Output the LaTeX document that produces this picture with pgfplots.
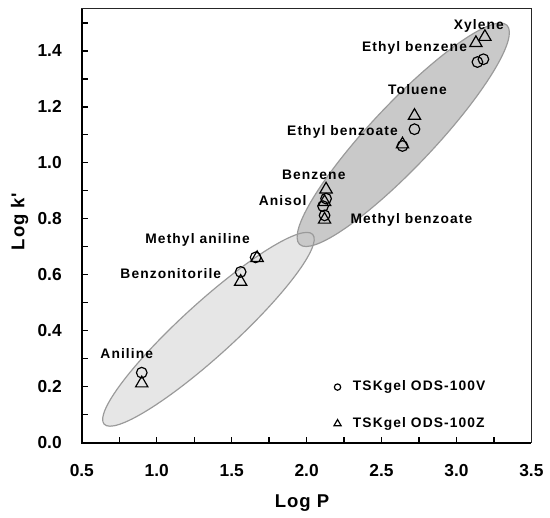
\documentclass[border=0pt]{standalone}
\usepackage{pgfplots}
\pgfplotsset{compat=1.18}
\usepackage{fontspec}
\setmainfont{Liberation Sans}
\setsansfont{Liberation Sans}
\newfontfamily\widesans[LetterSpace=8]{Liberation Sans}
\newfontfamily\titlesans[LetterSpace=5]{Liberation Sans}
\usetikzlibrary{shapes.geometric}

\definecolor{bigfill}{HTML}{C9C9C9}
\definecolor{smallfill}{HTML}{E6E6E6}
\definecolor{rim}{HTML}{9A9A9A}

\newcommand{\tickfont}{\bfseries\fontsize{8.8}{10}\selectfont}
\newcommand{\titlefont}{\titlesans\bfseries\fontsize{9.4}{11}\selectfont}
\newcommand{\labfont}{\widesans\bfseries\fontsize{7}{8}\selectfont}

% Retention (log k') against hydrophobicity (log P)
\pgfplotstableread{
x     y
0.90  0.25
1.56  0.61
1.66  0.662
2.11  0.845
2.13  0.872
2.12  0.812
2.64  1.060
2.72  1.120
3.14  1.360
3.18  1.370
}\odsV

\pgfplotstableread{
x     y
0.90  0.212
1.56  0.575
1.67  0.660
2.12  0.860
2.13  0.905
2.12  0.797
2.64  1.066
2.72  1.168
3.13  1.428
3.19  1.450
}\odsZ

\begin{document}
\begin{tikzpicture}
\begin{axis}[
  scale only axis,
  width=228pt, height=220pt,
  xmin=0.5, xmax=3.5, ymin=0, ymax=1.55,
  xtick={0.5,1.0,1.5,2.0,2.5,3.0,3.5},
  ytick={0,0.2,0.4,0.6,0.8,1.0,1.2,1.4},
  minor xtick={0.75,1.25,1.75,2.25,2.75,3.25},
  minor ytick={0.1,0.3,0.5,0.7,0.9,1.1,1.3,1.5},
  tick pos=left, tick align=inside,
  major tick length=3pt, minor tick length=3pt,
  every tick/.style={black, line width=0.7pt},
  axis line style={line width=0.5pt, black!85},
  /pgf/number format/.cd, fixed, fixed zerofill, precision=1, assume math mode=true,
  /pgfplots/.cd,
  xticklabel style={font=\tickfont, anchor=center, yshift=-14pt},
  yticklabel style={font=\tickfont, anchor=east, inner sep=0pt, xshift=-10pt},
  xlabel={Log P}, ylabel={Log k'},
  xlabel style={font=\titlefont, at={(rel axis cs:0.49,0)}, anchor=center, yshift=-30.5pt},
  ylabel style={font=\titlefont, at={(rel axis cs:0,0.51)}, anchor=center, yshift=31.5pt},
  legend style={at={(rel axis cs:0.56,0.153)}, anchor=north west, draw=none, fill=none,
    font=\labfont, row sep=8pt, inner sep=0pt,
    /tikz/every odd column/.append style={column sep=4pt}},
  legend cell align=left,
  legend image code/.code={\draw[#1] plot coordinates {(0pt,0pt)};},
  clip=false,
]
% grouping ellipses
\node[ellipse, inner sep=0pt, minimum width=143pt, minimum height=27pt, rotate=42.3,
      fill=smallfill] at (axis cs:1.345,0.405) {};
\node[ellipse, inner sep=0pt, minimum width=153pt, minimum height=32pt, rotate=46.6,
      fill=bigfill] at (axis cs:2.645,1.1) {};
\node[ellipse, inner sep=0pt, minimum width=143pt, minimum height=27pt, rotate=42.3,
      draw=rim, line width=0.6pt] at (axis cs:1.345,0.405) {};
\node[ellipse, inner sep=0pt, minimum width=153pt, minimum height=32pt, rotate=46.6,
      draw=rim, line width=0.6pt] at (axis cs:2.645,1.1) {};

\addplot[only marks, mark=o, mark size=2.7pt, mark options={line width=0.6pt, black},
  legend image post style={mark size=1.6pt}] table[x=x, y=y] {\odsV};
\addlegendentry{TSKgel ODS-100V}
\addplot[only marks, mark=triangle, mark size=3.6pt, mark options={line width=0.6pt, black},
  legend image post style={mark size=2.1pt}] table[x=x, y=y] {\odsZ};
\addlegendentry{TSKgel ODS-100Z}

% compound names
\node[font=\labfont] at (axis cs:3.15,1.49) {Xylene};
\node[font=\labfont] at (axis cs:2.72,1.412) {Ethyl benzene};
\node[font=\labfont] at (axis cs:2.74,1.26) {Toluene};
\node[font=\labfont] at (axis cs:2.24,1.109) {Ethyl benzoate};
\node[font=\labfont] at (axis cs:2.048,0.956) {Benzene};
\node[font=\labfont] at (axis cs:1.84,0.866) {Anisol};
\node[font=\labfont] at (axis cs:2.70,0.796) {Methyl benzoate};
\node[font=\labfont] at (axis cs:1.273,0.725) {Methyl aniline};
\node[font=\labfont] at (axis cs:1.094,0.604) {Benzonitorile};
\node[font=\labfont] at (axis cs:0.80,0.318) {Aniline};

% heavier left and bottom axis lines
\draw[line width=1.1pt, black] (rel axis cs:0,1) -- (rel axis cs:0,0) -- (rel axis cs:1,0);

\coordinate (bl) at (rel axis cs:0,0);
\coordinate (tr) at (rel axis cs:1,1);
\end{axis}
\path ([shift={(-41.5pt,-35pt)}]bl) rectangle ([shift={(5.5pt,4.5pt)}]tr);
\end{tikzpicture}
\end{document}
